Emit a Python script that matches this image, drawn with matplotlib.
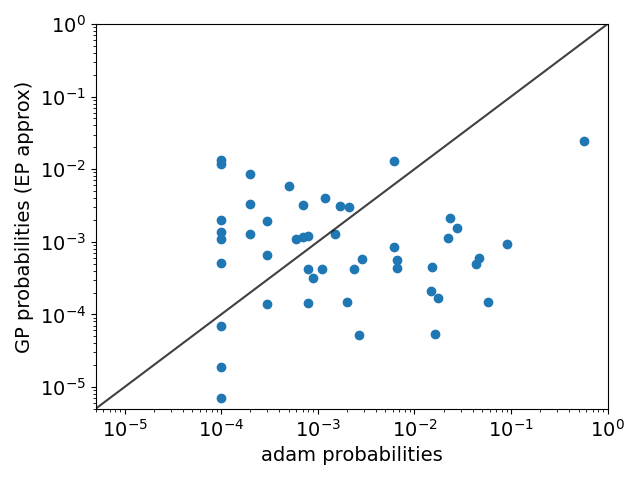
import matplotlib
matplotlib.use("Agg")
import matplotlib.pyplot as plt

adam_probs = [1e-4, 1e-4, 2e-4, 5e-4, 2e-4, 1e-4, 3e-4, 1e-4, 1e-4, 2e-4,
              3e-4, 1e-4, 3e-4, 1e-4, 1e-4, 1e-4, 6.2e-3, 7e-4, 1.19e-3, 1.68e-3,
              2.1e-3, 5.9e-4, 7e-4, 8e-4, 1.52e-3, 0.0233, 0.0278, 0.0222, 6.1e-3, 2.86e-3,
              6.6e-3, 6.6e-3, 0.0152, 7.9e-4, 1.10e-3, 2.37e-3, 8.9e-4, 0.0148, 0.0177, 7.9e-4,
              2.0e-3, 2.64e-3, 0.0163, 0.569, 0.090, 0.0462, 0.0433, 0.0577]
gp_probs = [0.0133, 0.0119, 0.0087, 0.0059, 0.00328, 0.00201, 0.00195, 0.00135, 0.00109, 0.00129,
            6.6e-4, 5.1e-4, 1.37e-4, 7.0e-5, 1.86e-5, 7.1e-6, 0.0131, 3.18e-3, 4.05e-3, 3.15e-3,
            3.0e-3, 1.10e-3, 1.16e-3, 1.21e-3, 1.29e-3, 2.15e-3, 1.56e-3, 1.14e-3, 8.5e-4, 5.83e-4,
            5.53e-4, 4.39e-4, 4.43e-4, 4.25e-4, 4.15e-4, 4.15e-4, 3.18e-4, 2.13e-4, 1.7e-4, 1.44e-4,
            1.49e-4, 5.26e-5, 5.38e-5, 0.0248, 9.4e-4, 5.89e-4, 4.87e-4, 1.49e-4]
lims = [5e-6, 1.0]

fig, ax = plt.subplots(figsize=(6.4, 4.8), dpi=100)
ax.scatter(adam_probs, gp_probs, color="#1f77b4")
ax.plot(lims, lims, color="k", alpha=0.75, lw=1.5)
ax.set_xscale("log")
ax.set_yscale("log")
ax.set_xlim(lims)
ax.set_ylim(lims)
ax.tick_params(labelsize=14)
ax.set_xlabel("adam probabilities", fontsize=14)
ax.set_ylabel("GP probabilities (EP approx)", fontsize=14)
fig.tight_layout()
fig.savefig("out.png")
